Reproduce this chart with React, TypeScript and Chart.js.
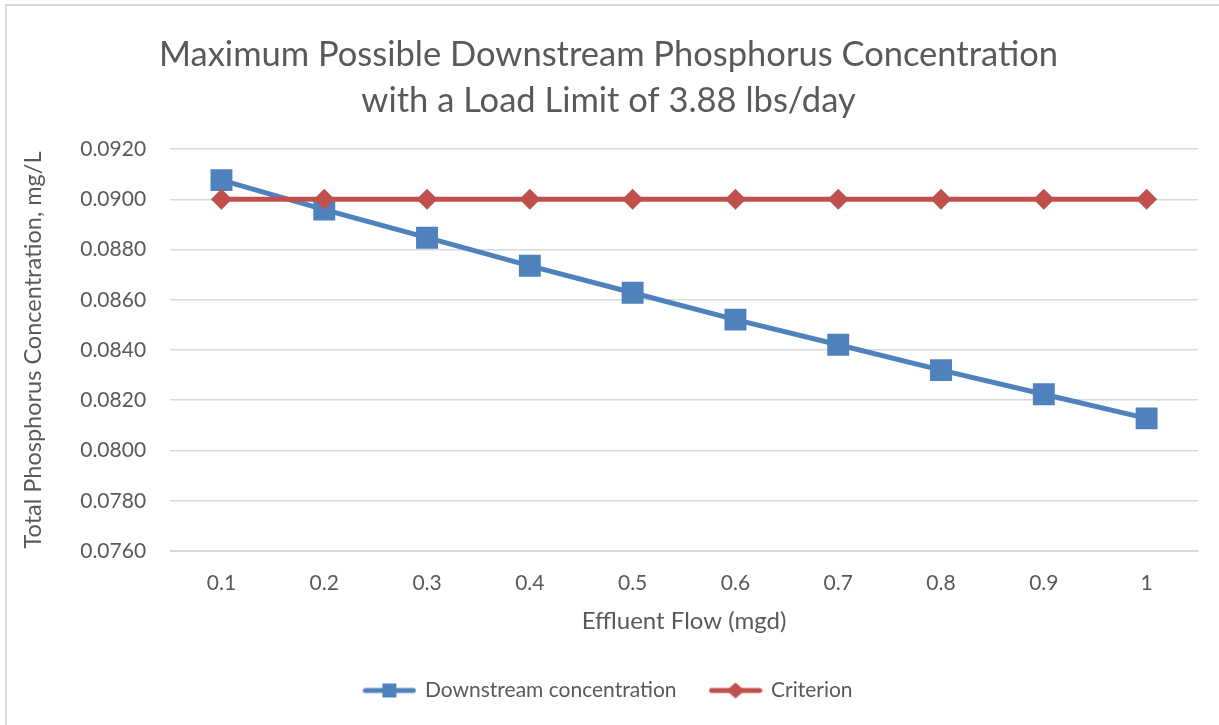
import { useEffect, useRef } from "react";
import { Chart, registerables } from "chart.js";

Chart.register(...registerables);

const categories = ["0.1", "0.2", "0.3", "0.4", "0.5", "0.6", "0.7", "0.8", "0.9", "1"];
const downstream = [0.09076, 0.08959, 0.08847, 0.08735, 0.08628, 0.08521, 0.08421, 0.0832, 0.08224, 0.08128];
const criterion = [0.09, 0.09, 0.09, 0.09, 0.09, 0.09, 0.09, 0.09, 0.09, 0.09];
const seriesNames = ["Downstream concentration", "Criterion"];
const titleLines = ["Maximum Possible Downstream Phosphorus Concentration", "with a Load Limit of 3.88 lbs/day"];
const xTitle = "Effluent Flow (mgd)";
const yTitle = "Total Phosphorus Concentration, mg/L";

const BLUE = "#4F81BD";
const RED = "#C0504D";
const TEXT = "#595959";
const GRID = "#D9D9D9";
const FONT = "Lato, 'Open Sans', sans-serif";

function legendImage(color: string, shape: "square" | "diamond") {
  const c = document.createElement("canvas");
  c.width = 54;
  c.height = 22;
  const ctx = c.getContext("2d")!;
  ctx.strokeStyle = color;
  ctx.lineWidth = 5;
  ctx.lineCap = "round";
  ctx.beginPath();
  ctx.moveTo(3, 11);
  ctx.lineTo(51, 11);
  ctx.stroke();
  ctx.fillStyle = color;
  if (shape === "square") {
    ctx.fillRect(27 - 7, 11 - 7, 14, 14);
  } else {
    ctx.beginPath();
    ctx.moveTo(27 - 9, 11);
    ctx.lineTo(27, 11 - 8);
    ctx.lineTo(27 + 9, 11);
    ctx.lineTo(27, 11 + 8);
    ctx.closePath();
    ctx.fill();
  }
  return c;
}

const framePlugin = {
  id: "frame",
  beforeDraw(chart: any) {
    const ctx = chart.ctx;
    ctx.save();
    ctx.fillStyle = "#ffffff";
    ctx.fillRect(0, 0, chart.width, chart.height);
    ctx.strokeStyle = GRID;
    ctx.lineWidth = 2;
    ctx.beginPath();
    ctx.moveTo(6, chart.height + 5);
    ctx.lineTo(6, 5);
    ctx.lineTo(chart.width + 5, 5);
    ctx.stroke();
    ctx.restore();
  },
};

export default function App() {
  const ref = useRef<HTMLCanvasElement | null>(null);

  useEffect(() => {
    document.body.style.margin = "0";
    if (!ref.current) return;
    const images = [legendImage(BLUE, "square"), legendImage(RED, "diamond")];
    const chart = new Chart(ref.current, {
      type: "line",
      data: {
        labels: categories,
        datasets: [
          {
            label: seriesNames[0],
            data: downstream,
            borderColor: BLUE,
            backgroundColor: BLUE,
            borderWidth: 5,
            pointStyle: "rect",
            pointRadius: 15.5,
            pointHoverRadius: 15.5,
            pointBorderWidth: 0,
            tension: 0,
            order: 1,
          },
          {
            label: seriesNames[1],
            data: criterion,
            borderColor: RED,
            backgroundColor: RED,
            borderWidth: 5,
            pointStyle: "rectRot",
            pointRadius: 10.5,
            pointHoverRadius: 10.5,
            pointBorderWidth: 0,
            tension: 0,
            order: 0,
          },
        ],
      },
      options: {
        animation: false,
        responsive: true,
        maintainAspectRatio: false,
        layout: { padding: { left: 19, right: 21, top: 0, bottom: 14 } },
        plugins: {
          title: {
            display: true,
            text: titleLines,
            color: TEXT,
            font: { family: FONT, size: 34.5, weight: "normal", lineHeight: 46 / 34.5 },
            padding: { top: 32, bottom: 25 },
          },
          legend: {
            display: true,
            position: "bottom",
            labels: {
              color: TEXT,
              font: { family: FONT, size: 21 },
              usePointStyle: true,
              pointStyleWidth: 50,
              padding: 34,
              sort: (a: any, b: any) => a.datasetIndex - b.datasetIndex,
              generateLabels: (ch: any) => {
                const items = (Chart.defaults.plugins.legend.labels.generateLabels as any)(ch);
                return items.map((it: any) => ({ ...it, pointStyle: images[it.datasetIndex] }));
              },
            },
          },
          tooltip: { enabled: false },
        },
        scales: {
          x: {
            type: "category",
            offset: true,
            grid: { display: false, drawTicks: false },
            border: { display: true, color: GRID, width: 1 },
            ticks: { color: TEXT, font: { family: FONT, size: 21 }, padding: 20 },
            title: {
              display: true,
              text: xTitle,
              color: TEXT,
              font: { family: FONT, size: 24 },
              padding: { top: -9, bottom: 10 },
            },
          },
          y: {
            min: 0.076,
            max: 0.092,
            grid: { color: GRID, lineWidth: 1.5, drawTicks: false },
            border: { display: false },
            ticks: {
              stepSize: 0.002,
              color: TEXT,
              font: { family: FONT, size: 21 },
              padding: 24,
              callback: (v: any) => Number(v).toFixed(4),
            },
            title: {
              display: true,
              text: yTitle,
              color: TEXT,
              font: { family: FONT, size: 23.5 },
              padding: { top: 0, bottom: 9 },
            },
          },
        },
      },
      plugins: [framePlugin],
    });
    return () => chart.destroy();
  }, []);

  return (
    <div style={{ position: "relative", width: 1219, height: 725 }}>
      <canvas ref={ref} />
    </div>
  );
}
